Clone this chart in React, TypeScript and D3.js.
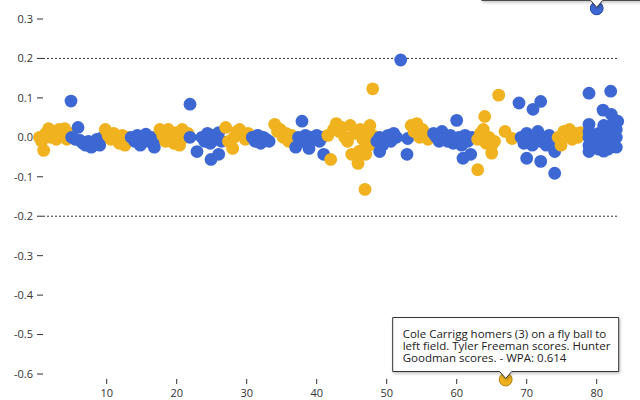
import * as React from 'react';
import * as d3 from 'd3';

const WIDTH = 640;
const HEIGHT = 400;

// [play index, win probability added] — gold plays plotted below zero
const goldPlays: [number, number][] = [
  [0.4, 0.0], [0.7, -0.01], [1.0, -0.033], [1.3, 0.01], [1.7, 0.022], [2.0, 0.0], [2.4, 0.015],
  [2.8, -0.005], [3.2, 0.02], [3.6, 0.005], [4.0, 0.022], [4.3, -0.005], [4.6, 0.01],
  [9.8, 0.02], [10.2, 0.005], [10.6, -0.005], [11.0, 0.01], [11.4, 0.0], [11.8, -0.015],
  [12.2, 0.005], [12.6, -0.02], [13.0, 0.0],
  [17.6, 0.02], [18.0, 0.005], [18.4, -0.01], [18.8, 0.02], [19.2, 0.0], [19.6, -0.015],
  [20.0, 0.012], [20.4, -0.02], [20.8, 0.02], [21.2, 0.0], [21.6, 0.01],
  [27.0, 0.025], [27.4, -0.01], [28.0, -0.028], [28.2, 0.0], [28.6, 0.015], [29.0, 0.02],
  [29.4, 0.005], [29.8, -0.005], [30.2, 0.01], [30.6, 0.0],
  [34.0, 0.033], [34.4, 0.015], [34.8, 0.02], [35.2, 0.0], [35.6, 0.01], [36.0, -0.01], [36.4, 0.005],
  [41.6, 0.005], [42.0, -0.056], [42.4, 0.02], [42.8, 0.035], [43.2, 0.015], [43.6, 0.025],
  [44.0, 0.0], [44.4, -0.01], [44.8, 0.03], [45.0, -0.043], [45.4, 0.01], [45.9, -0.066],
  [46.1, -0.035], [46.2, 0.02], [46.6, -0.005], [46.9, -0.132], [47.0, -0.043], [47.2, 0.01],
  [47.5, -0.02], [47.6, 0.03], [48.0, 0.123], [48.0, 0.005], [48.3, -0.015],
  [53.5, 0.03], [53.9, 0.015], [54.3, 0.035], [54.7, 0.0], [55.1, 0.02], [55.5, 0.01],
  [55.9, -0.005], [56.3, 0.005],
  [63.0, -0.082], [63.0, -0.005], [63.4, 0.01], [63.8, 0.02], [64.0, 0.053], [64.2, -0.015],
  [64.6, 0.0], [65.0, -0.04], [65.0, -0.02], [65.4, -0.01], [66.0, 0.107], [66.9, 0.015],
  [67.0, -0.614], [67.9, -0.003],
  [74.5, 0.0], [74.9, -0.02], [75.3, 0.015], [75.7, 0.005], [76.1, 0.02], [76.5, -0.005],
  [76.9, 0.01], [77.3, 0.0], [77.7, 0.012],
];

const bluePlays: [number, number][] = [
  [4.9, 0.092], [5.0, 0.0], [5.5, -0.005], [5.9, 0.025], [6.2, -0.008], [6.6, -0.015], [7.0, -0.02],
  [7.4, -0.01], [7.8, -0.025], [8.2, -0.015], [8.6, -0.005], [9.0, -0.02], [9.4, 0.0],
  [13.5, 0.0], [14.0, -0.01], [14.4, 0.005], [14.8, -0.02], [15.2, -0.005], [15.6, 0.008],
  [16.0, -0.01], [16.4, 0.0], [16.8, -0.025], [17.2, -0.005],
  [21.9, 0.084], [21.9, 0.0], [22.9, -0.036], [23.6, 0.0], [24.0, -0.01], [24.4, 0.01],
  [24.8, -0.015], [24.9, -0.056], [25.2, 0.005], [25.6, -0.005], [26.0, 0.012], [26.0, -0.043],
  [26.4, -0.01],
  [30.8, 0.0], [31.2, -0.01], [31.6, 0.005], [32.0, -0.015], [32.4, 0.0], [32.8, -0.005], [33.2, -0.01],
  [37.0, -0.025], [37.4, 0.0], [37.9, 0.041], [38.0, -0.01], [38.4, 0.005], [38.9, -0.028],
  [39.2, 0.0], [39.6, -0.005], [40.0, 0.005], [40.4, -0.01], [40.8, 0.0], [41.0, -0.043],
  [48.6, -0.01], [49.0, 0.0], [49.0, -0.036], [49.4, -0.02], [49.8, -0.005], [50.2, 0.005],
  [50.6, -0.01], [51.0, 0.01], [51.4, 0.0], [52.0, 0.196], [53.0, -0.003], [52.9, -0.043],
  [56.7, 0.01], [57.1, 0.0], [57.5, -0.01], [57.9, 0.015], [58.3, 0.0], [58.7, -0.01],
  [59.1, 0.005], [59.5, -0.015], [60.0, 0.043], [60.3, 0.0], [60.7, -0.02], [60.9, -0.053],
  [61.2, 0.005], [61.6, -0.01], [62.0, -0.043], [62.2, 0.0],
  [68.9, 0.087], [69.2, 0.0], [69.6, -0.015], [70.0, -0.053], [70.0, 0.01], [70.4, -0.005],
  [70.8, -0.02], [70.9, 0.071], [71.2, 0.005], [71.6, 0.015], [72.0, 0.091], [72.0, -0.061],
  [72.0, -0.01], [72.4, 0.0], [72.8, -0.02], [73.2, 0.005], [73.6, -0.01], [74.0, -0.036],
  [74.0, -0.091],
  [78.9, 0.112], [78.9, 0.033], [78.9, 0.015], [78.9, 0.0], [78.9, -0.02], [78.9, -0.036],
  [79.6, 0.0], [79.6, -0.025], [80.0, 0.327], [80.3, -0.02], [80.3, 0.01], [80.3, -0.03],
  [80.9, 0.069], [81.0, 0.03], [81.0, 0.01], [81.0, -0.01], [81.0, -0.035], [81.6, 0.025],
  [81.6, -0.005], [81.6, -0.03], [82.0, 0.117], [82.1, 0.058], [82.3, 0.035], [82.3, 0.015],
  [82.3, -0.02], [82.8, 0.02], [82.8, 0.0], [82.8, -0.025], [83.0, 0.041],
];

const yTicks = [0.3, 0.2, 0.1, 0.0, -0.1, -0.2, -0.3, -0.4, -0.5, -0.6];
const xTicks = [10, 20, 30, 40, 50, 60, 70, 80];
const refLines = [0.2, -0.2];

const COLORS = {
  gold: '#f0b21e',
  blue: '#3d68d4',
};

// hovered plays with their description boxes (the upper box sits above the page edge)
const highlights = [
  { team: 'blue' as const, play: 80.0, wpa: 0.327, width: 230, lines: [] as string[] },
  {
    team: 'gold' as const,
    play: 67.0,
    wpa: -0.614,
    width: 226,
    lines: [
      'Cole Carrigg homers (3) on a fly ball to',
      'left field. Tyler Freeman scores. Hunter',
      'Goodman scores. - WPA: 0.614',
    ],
  },
];

const FONT = '"Open Sans", "Noto Sans", sans-serif';
const R = 6.4;

export default function App() {
  const x = d3.scaleLinear().domain([0, 83]).range([36.7, 617.7]);
  const y = d3.scaleLinear().domain([-0.6, 0.3]).range([374, 19]);

  const points = [
    ...goldPlays.map(([p, v]) => ({ p, v, team: 'gold' as const })),
    ...bluePlays.map(([p, v]) => ({ p, v, team: 'blue' as const })),
  ].sort((a, b) => a.p - b.p);

  const tipH = 54;
  const notch = 6;
  const notchH = 7;

  return (
    <svg
      width={WIDTH}
      height={HEIGHT}
      style={{ position: 'absolute', left: 0, top: 0, background: '#fff' }}
      fontFamily={FONT}
    >
      <defs>
        <filter id="tipShadow" x="-10%" y="-20%" width="130%" height="150%">
          <feDropShadow dx="1" dy="1.5" stdDeviation="1.5" floodColor="#000" floodOpacity="0.25" />
        </filter>
      </defs>

      {/* y axis */}
      <g>
        {yTicks.map((t) => (
          <g key={t} transform={`translate(0,${y(t)})`}>
            <line x1={37} x2={43} stroke="#333" strokeWidth={1} />
            <text x={33} dy="0.35em" textAnchor="end" fontSize={11} fill="#333333">
              {d3.format('.1f')(t).replace('−', '-')}
            </text>
          </g>
        ))}
      </g>

      {/* reference lines */}
      {refLines.map((r) => (
        <line
          key={r}
          x1={43}
          x2={x(83)}
          y1={y(r)}
          y2={y(r)}
          stroke="#333"
          strokeWidth={1}
          strokeDasharray="2,2"
        />
      ))}

      {/* x axis */}
      <g>
        {xTicks.map((t) => (
          <g key={t} transform={`translate(${x(t)},0)`}>
            <line y1={379} y2={384} stroke="#333" strokeWidth={1} />
            <text y={397} textAnchor="middle" fontSize={11} fill="#333333">
              {t}
            </text>
          </g>
        ))}
      </g>

      {/* plays */}
      <g>
        {points.map((d, i) => (
          <circle key={i} cx={x(d.p)} cy={y(d.v)} r={R} fill={COLORS[d.team]} />
        ))}
      </g>

      {/* hovered plays */}
      {highlights.map((h) => {
        const cx = x(h.play);
        const cy = y(h.wpa);
        const tipY = cy - 1;
        const bottom = tipY - notchH;
        const top = bottom - tipH;
        const left = cx - h.width / 2;
        const right = cx + h.width / 2;
        const path = d3.path();
        path.moveTo(left, top);
        path.lineTo(right, top);
        path.lineTo(right, bottom);
        path.lineTo(cx + notch, bottom);
        path.lineTo(cx, tipY);
        path.lineTo(cx - notch, bottom);
        path.lineTo(left, bottom);
        path.closePath();
        return (
          <g key={h.play}>
            <circle
              cx={cx}
              cy={cy}
              r={R}
              fill={COLORS[h.team]}
              stroke={d3.color(COLORS[h.team])!.darker(0.8).toString()}
              strokeWidth={1}
            />
            <path
              d={path.toString()}
              fill="#fff"
              stroke="#333"
              strokeWidth={1}
              filter="url(#tipShadow)"
            />
            {h.lines.map((l, i) => (
              <text key={i} x={left + 10} y={top + 20.5 + i * 12} fontSize={11.5} fill="#222">
                {l}
              </text>
            ))}
          </g>
        );
      })}
    </svg>
  );
}
